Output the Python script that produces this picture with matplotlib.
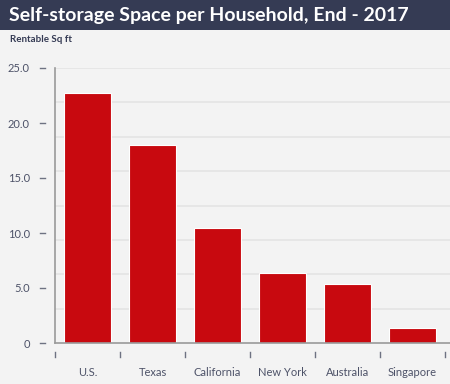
import matplotlib.pyplot as plt
from matplotlib.patches import Rectangle

# data
regions = ["U.S.", "Texas", "California", "New York", "Australia", "Singapore"]
sqft = [22.75, 18.0, 10.5, 6.35, 5.35, 1.35]
ytick_vals = [0, 5, 10, 15, 20, 25]
ytick_labels = ["0", "5.0", "10.0", "15.0", "20.0", "25.0"]

bg = "#f3f3f3"
navy = "#353b54"
red = "#c8090f"
txt = "#4d5268"

plt.rcParams['font.family'] = ['Lato', 'DejaVu Sans']

fig = plt.figure(figsize=(4.5, 3.84), dpi=100, facecolor=bg)

# header band
fig.patches.append(Rectangle((0, 1 - 30 / 384), 1, 30 / 384, transform=fig.transFigure,
                             facecolor=navy, edgecolor="none", zorder=0))
fig.text(9 / 450, 1 - 15 / 384, "Self-storage Space per Household, End - 2017",
         color="white", fontsize=14, fontweight="bold", va="center", ha="left")
fig.text(10 / 450, 1 - 39 / 384, "Rentable Sq ft", color=navy, fontsize=7,
         fontweight="bold", va="center", ha="left")

ax = fig.add_axes([55 / 450, 1 - 343 / 384, 395 / 450, 275 / 384])
ax.set_facecolor(bg)

# gridlines every 25/8
for i in range(1, 9):
    ax.axhline(i * 25 / 8, color="#e4e4e4", lw=1.2, zorder=0)

x = list(range(len(regions)))
ax.bar(x, sqft, width=0.715, color=red, edgecolor="white", linewidth=0.8, zorder=2)

ax.set_xlim(-0.5, 5.5 + 5 / 65)
ax.set_ylim(0, 25)

for s in ["top", "right"]:
    ax.spines[s].set_visible(False)
for s in ["left", "bottom"]:
    ax.spines[s].set_color("#9a9a9a")
    ax.spines[s].set_linewidth(1.2)

ax.set_yticks(ytick_vals)
ax.set_yticklabels(ytick_labels)
ax.set_xticks(x)
ax.set_xticklabels(regions)
ax.tick_params(axis="y", length=0, pad=18, labelsize=8, labelcolor=txt)
ax.tick_params(axis="x", length=0, pad=17, labelsize=8, labelcolor=txt)

# detached tick dashes
for v in ytick_vals:
    ax.plot([-15 / 395, -10 / 395], [v, v], transform=ax.get_yaxis_transform(),
            color="#6e7282", lw=1, clip_on=False)
for b in range(len(regions) + 1):
    ax.plot([b - 0.5, b - 0.5], [-9 / 275, -14 / 275], transform=ax.get_xaxis_transform(),
            color="#6e7282", lw=1, clip_on=False)

fig.savefig("out.png", dpi=100, facecolor=bg)
